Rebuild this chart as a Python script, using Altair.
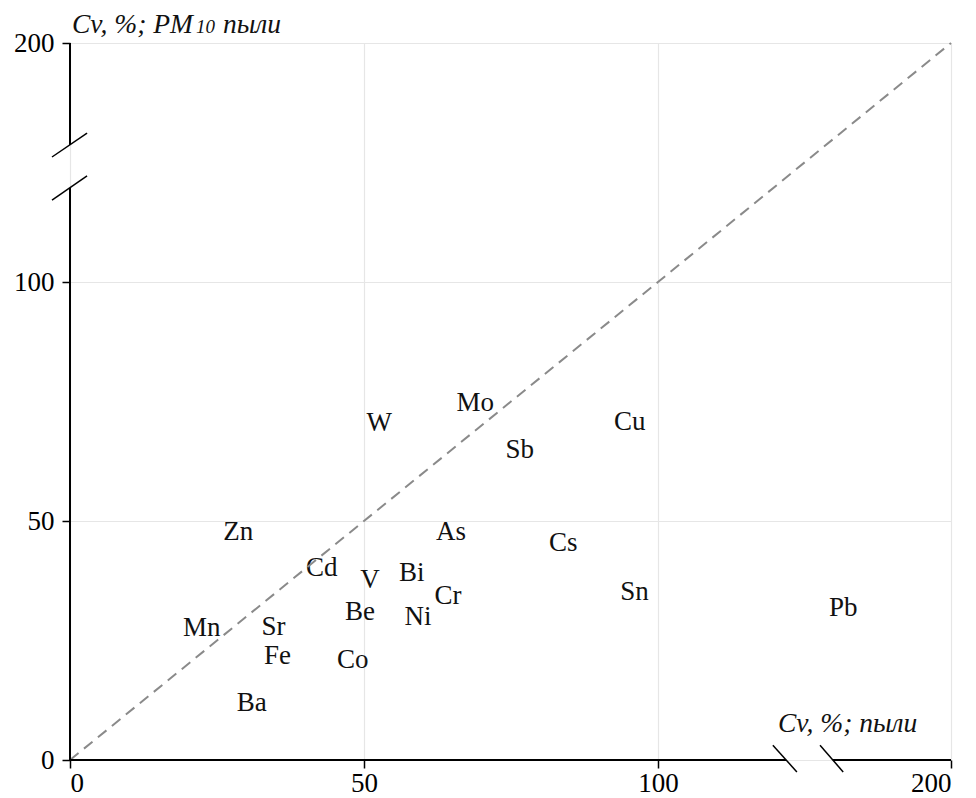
import altair as alt
import pandas as pd

# ---- data ----
elements = ["W", "Mo", "Cu", "Sb", "Zn", "As", "Cs", "Cd", "V", "Bi", "Cr", "Sn",
            "Pb", "Be", "Ni", "Mn", "Sr", "Fe", "Co", "Ba"]
cv_dust = [52.6, 68.9, 95.2, 76.5, 28.6, 64.8, 83.9, 42.8, 51.0, 58.1, 64.3, 96.0,
           163.2, 49.3, 59.2, 22.4, 34.6, 35.3, 48.1, 30.9]
cv_pm10 = [70.4, 74.6, 70.8, 64.9, 47.8, 47.8, 45.3, 40.1, 37.7, 39.1, 34.3, 35.2,
           31.7, 30.9, 30.0, 27.6, 27.9, 21.8, 20.9, 12.0]
tick_values = [0, 50, 100, 200]
diag = [0, 100, 200]

# axis break positions (data units)
x_break = (143.7, 159.7)
y_break = (139.3, 157.3)

W, H = 881, 717
FONT = "Liberation Serif"

xs = alt.Scale(domain=[0, 100, 200], range=[0, 588, W], nice=False, zero=False)
ys = alt.Scale(domain=[0, 100, 200], range=[H, 239, 0], nice=False, zero=False)

pts = pd.DataFrame({"el": elements, "x": cv_dust, "y": cv_pm10})

ax_common = dict(values=tick_values, title=None, domain=False, tickColor="black",
                 tickWidth=1.5, tickSize=8, labelFont=FONT, labelFontSize=27,
                 labelColor="black", gridColor="#e6e6e6", gridWidth=1.2)

labels = alt.Chart(pts).mark_text(font=FONT, fontSize=27, color="#111",
                                  align="center", baseline="middle").encode(
    x=alt.X("x:Q", scale=xs, axis=alt.Axis(labelPadding=2, **ax_common)),
    y=alt.Y("y:Q", scale=ys, axis=alt.Axis(labelPadding=8, **ax_common)),
    text="el:N",
)

diag_df = pd.DataFrame({"x": diag, "y": diag})
diag_line = alt.Chart(diag_df).mark_line(color="#8a8a8a", strokeWidth=2,
                                         strokeDash=[11, 7]).encode(
    x=alt.X("x:Q", scale=xs, title=None),
    y=alt.Y("y:Q", scale=ys, title=None),
)

# axis lines with breaks
axis_df = pd.DataFrame({
    "x0": [0, x_break[1], 0, 0],
    "x1": [x_break[0], 200, 0, 0],
    "y0": [0, 0, 0, y_break[1]],
    "y1": [0, 0, y_break[0], 200],
})
axis_lines = alt.Chart(axis_df).mark_rule(color="black", strokeWidth=2).encode(
    x=alt.X("x0:Q", scale=xs, title=None), x2="x1:Q",
    y=alt.Y("y0:Q", scale=ys, title=None), y2="y1:Q",
)

# break slashes
slash_df = pd.DataFrame({
    "x0": [139.2, 155.3, -3.06, -3.06],
    "x1": [147.4, 163.2, 2.9, 2.9],
    "y0": [3.1, 3.1, 152.3, 134.3],
    "y1": [-2.5, -2.5, 162.3, 144.4],
})
slashes = alt.Chart(slash_df).mark_rule(color="black", strokeWidth=1.5).encode(
    x=alt.X("x0:Q", scale=xs, title=None), x2="x1:Q",
    y=alt.Y("y0:Q", scale=ys, title=None), y2="y1:Q",
)

# axis titles
title_df = pd.DataFrame({
    "t": ["Cv, %; PM", "10", "пыли", "Cv, %; пыли"],
    "px": [2, 126, 153, 708],
    "py": [-10, -10, -10, 689],
    "fs": [27.5, 19, 27.5, 27.5],
})
titles = alt.Chart(title_df).mark_text(font=FONT, fontStyle="italic", color="#111",
                                       align="left", baseline="alphabetic").encode(
    x=alt.X("px:Q", scale=None),
    y=alt.Y("py:Q", scale=None),
    text="t:N",
    size=alt.Size("fs:Q", scale=None, legend=None),
)

chart = alt.layer(labels, diag_line, axis_lines, slashes, titles).properties(
    width=W, height=H,
    autosize=alt.AutoSizeParams(type="none"),
    padding={"left": 62, "top": 35, "right": 17, "bottom": 38},
).configure_view(stroke=None).configure(background="white")

chart.save("out.html", embed_options={"renderer": "svg", "actions": False})
